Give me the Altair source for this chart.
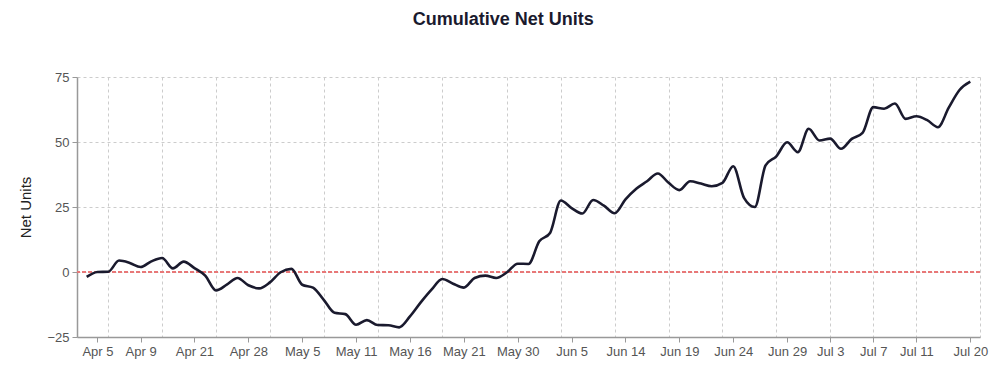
import altair as alt
import pandas as pd

# cumulative net units, one value per game day (index 0..82)
net_units = [
    -1.9, 0.0, 0.1, 4.4, 3.5, 1.9, 4.1, 5.4, 1.4, 4.0,
    1.5, -1.4, -7.1, -4.9, -2.3, -5.1, -6.3, -4.0, -0.1, 1.2,
    -4.9, -6.0, -10.7, -15.7, -16.2, -20.3, -18.5, -20.4, -20.5, -21.3,
    -17.1, -11.7, -6.8, -2.7, -4.5, -6.0, -2.3, -1.4, -2.3, -0.1,
    3.2, 3.1, 11.8, 15.0, 27.5, 24.6, 22.5, 27.7, 25.5, 22.6,
    27.9, 32.0, 34.9, 37.9, 34.3, 31.5, 34.9, 34.0, 33.0, 34.3,
    40.7, 28.5, 25.0, 41.0, 44.5, 49.9, 46.1, 55.1, 50.6, 51.3,
    47.4, 51.2, 53.5, 63.4, 62.8, 64.8, 58.9, 59.9, 58.4, 55.7,
    63.2, 70.0, 73.2,
]
game_index = list(range(len(net_units)))

tick_index = [1, 5, 10, 15, 20, 25, 30, 35, 40, 45, 50, 55, 60, 65, 69, 73, 77, 82]
tick_label = ["Apr 5", "Apr 9", "Apr 21", "Apr 28", "May 5", "May 11", "May 16",
              "May 21", "May 30", "Jun 5", "Jun 14", "Jun 19", "Jun 24", "Jun 29",
              "Jul 3", "Jul 7", "Jul 11", "Jul 20"]
grid_index = [2, 7, 12, 17, 22, 27, 33, 39, 44, 49, 54, 59, 64, 69, 73, 77, 82.9]

x_domain = [-0.9, 82.9]
y_domain = [-25, 75]

df = pd.DataFrame({"game": game_index, "units": net_units})

FONT = "Liberation Sans"

label_expr = "{}[indexof({}, datum.value)]".format(
    "[" + ",".join("'%s'" % t for t in tick_label) + "]",
    "[" + ",".join(str(i) for i in tick_index) + "]",
)

xscale = alt.Scale(domain=x_domain, nice=False, zero=False)
yscale = alt.Scale(domain=y_domain, nice=False)

line = alt.Chart(df).mark_line(
    color="#1a1a2e", strokeWidth=2.6, interpolate="monotone"
).encode(
    x=alt.X("game:Q", scale=xscale,
            axis=alt.Axis(values=tick_index, labelExpr=label_expr, grid=False,
                          title=None, orient="bottom")),
    y=alt.Y("units:Q", scale=yscale,
            axis=alt.Axis(values=[-25, 0, 25, 50, 75], title="Net Units",
                          grid=True, gridDash=[3, 3], gridColor="#cccccc",
                          titlePadding=13)),
)

grid_layer = alt.Chart(df).mark_line(opacity=0).encode(
    x=alt.X("game:Q", scale=xscale,
            axis=alt.Axis(values=grid_index, grid=True, gridDash=[3, 3],
                          gridColor="#cccccc", labels=False, ticks=False,
                          domain=False, title=None, orient="bottom")),
    y=alt.Y("units:Q", scale=yscale),
)

zero = alt.Chart(df).mark_rule(
    color="#e87878", strokeDash=[4, 2], strokeWidth=1.8
).encode(y=alt.datum(0))

chart = alt.layer(grid_layer, zero, line).resolve_axis(x="independent").properties(
    width=903,
    height=260,
    autosize=alt.AutoSizeParams(type="none"),
    padding={"left": 69, "top": 69, "right": 13, "bottom": 30},
    title=alt.TitleParams("Cumulative Net Units", fontSize=18, font=FONT,
                          fontWeight="bold", color="#1a1a2e", anchor="middle",
                          frame="bounds", offset=42),
).configure_view(stroke=None).configure_axis(
    labelFont=FONT, titleFont=FONT, labelFontSize=13, titleFontSize=15,
    labelColor="#555555", titleColor="#222222", titleFontWeight="normal",
    domainColor="#999999", domainWidth=1.5, tickColor="#999999", tickSize=5,
    labelPadding=3,
)

chart.save("out.html", embed_options={"renderer": "svg", "actions": False})
